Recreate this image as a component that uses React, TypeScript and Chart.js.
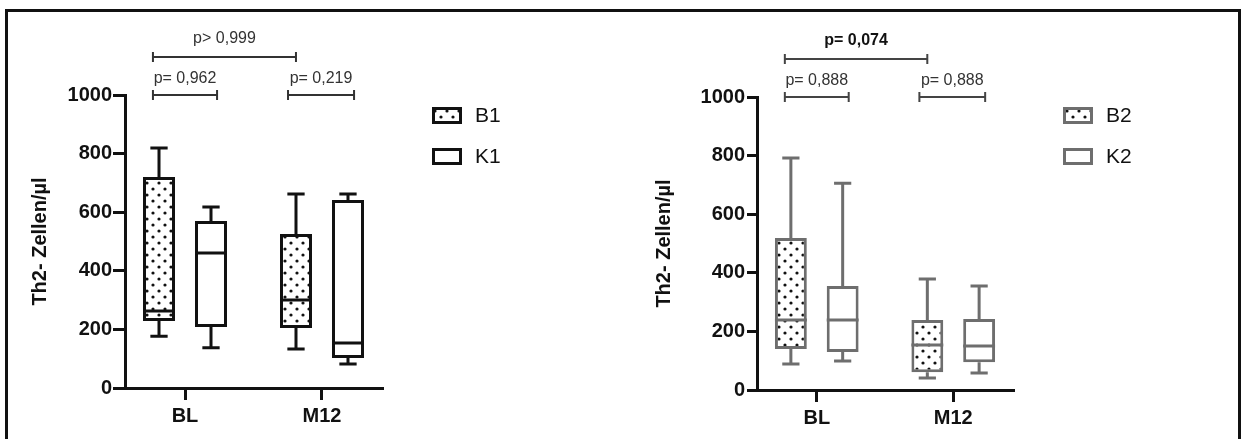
import React, { useEffect, useRef } from 'react';
import { Chart, registerables } from 'chart.js';

Chart.register(...registerables);

// ---------- data ----------
const categories = ['BL', 'M12'];
const yTicks = [0, 200, 400, 600, 800, 1000];

// left panel (B1 / K1)
const b1Min = [177, 133];
const b1Q1 = [229, 205];
const b1Median = [263, 300];
const b1Q3 = [720, 526];
const b1Max = [819, 662];

const k1Min = [137, 82];
const k1Q1 = [208, 102];
const k1Median = [461, 154];
const k1Q3 = [570, 642];
const k1Max = [618, 662];

// right panel (B2 / K2)
const b2Min = [89, 41];
const b2Q1 = [140, 61];
const b2Median = [239, 154];
const b2Q3 = [519, 239];
const b2Max = [792, 379];

const k2Min = [99, 58];
const k2Q1 = [130, 95];
const k2Median = [239, 150];
const k2Q3 = [355, 242];
const k2Max = [706, 355];

// significance brackets (x in category units, y in data units)
const bracketFrom = [-0.234, -0.234, 0.752];
const bracketTo = [0.81, 0.234, 1.234];
const bracketLevel = [1130, 1000, 1000];
const leftPLabels = ['p> 0,999', 'p= 0,962', 'p= 0,219'];
const rightPLabels = ['p= 0,074', 'p= 0,888', 'p= 0,888'];

const FONT = "'Liberation Sans', Arial, Helvetica, sans-serif";

function makePattern(): CanvasPattern | string {
  const c = document.createElement('canvas');
  c.width = 12;
  c.height = 12;
  const g = c.getContext('2d');
  if (!g) return '#fff';
  g.fillStyle = '#ffffff';
  g.fillRect(0, 0, 12, 12);
  g.fillStyle = '#111111';
  g.beginPath();
  g.arc(3, 3, 1.6, 0, Math.PI * 2);
  g.closePath();
  g.fill();
  g.beginPath();
  g.arc(9, 9, 1.6, 0, Math.PI * 2);
  g.closePath();
  g.fill();
  return g.createPattern(c, 'repeat') || '#fff';
}

const boxPlugin = {
  id: 'boxWhiskers',
  afterDatasetsDraw(chart: any) {
    const ctx = chart.ctx;
    const y = chart.scales.y;
    chart.data.datasets.forEach((ds: any, di: number) => {
      const meta = chart.getDatasetMeta(di);
      meta.data.forEach((bar: any, i: number) => {
        const { x, width } = bar.getProps(['x', 'width'], true);
        const st = ds.stats;
        const pMin = y.getPixelForValue(st.min[i]);
        const pQ1 = y.getPixelForValue(st.q1[i]);
        const pMed = y.getPixelForValue(st.median[i]);
        const pQ3 = y.getPixelForValue(st.q3[i]);
        const pMax = y.getPixelForValue(st.max[i]);
        const cap = width * 0.27;
        ctx.save();
        ctx.strokeStyle = ds.borderColor;
        ctx.lineWidth = 3;
        ctx.lineCap = 'butt';
        ctx.beginPath();
        ctx.moveTo(x, pQ3);
        ctx.lineTo(x, pMax);
        ctx.moveTo(x - cap, pMax);
        ctx.lineTo(x + cap, pMax);
        ctx.moveTo(x, pQ1);
        ctx.lineTo(x, pMin);
        ctx.moveTo(x - cap, pMin);
        ctx.lineTo(x + cap, pMin);
        ctx.moveTo(x - width / 2, pMed);
        ctx.lineTo(x + width / 2, pMed);
        ctx.stroke();
        ctx.restore();
      });
    });
  },
};

const extrasPlugin = {
  id: 'extras',
  afterDraw(chart: any, _args: any, opts: any) {
    const ctx = chart.ctx;
    const xs = chart.scales.x;
    const ys = chart.scales.y;
    const area = chart.chartArea;
    // brackets
    ctx.save();
    ctx.strokeStyle = opts.bracketColor;
    ctx.lineWidth = 2;
    opts.labels.forEach((lab: string, i: number) => {
      const x1 = xs.getPixelForValue(bracketFrom[i]);
      const x2 = xs.getPixelForValue(bracketTo[i]);
      const yy = ys.getPixelForValue(bracketLevel[i]);
      ctx.beginPath();
      ctx.moveTo(x1, yy);
      ctx.lineTo(x2, yy);
      ctx.moveTo(x1, yy - 5);
      ctx.lineTo(x1, yy + 5);
      ctx.moveTo(x2, yy - 5);
      ctx.lineTo(x2, yy + 5);
      ctx.stroke();
      const bold = opts.boldFirst && i === 0;
      ctx.font = `${bold ? 'bold ' : ''}16px ${FONT}`;
      ctx.fillStyle = bold ? '#111' : '#333';
      ctx.textAlign = 'center';
      ctx.textBaseline = 'alphabetic';
      ctx.fillText(lab, (x1 + x2) / 2, yy - (i === 0 ? 14 : 12));
    });
    ctx.restore();
    // legend
    ctx.save();
    chart.data.datasets.forEach((ds: any, i: number) => {
      const bx = area.right + 50;
      const by = opts.legendTop[i];
      ctx.fillStyle = ds.backgroundColor;
      ctx.fillRect(bx, by, 30, 17);
      ctx.strokeStyle = ds.borderColor;
      ctx.lineWidth = 3;
      ctx.strokeRect(bx + 1.5, by + 1.5, 27, 14);
      ctx.fillStyle = '#111';
      ctx.font = `21px ${FONT}`;
      ctx.textAlign = 'left';
      ctx.textBaseline = 'middle';
      ctx.fillText(ds.label, bx + 43, by + 9);
    });
    ctx.restore();
  },
};

type BoxSeries = {
  label: string;
  min: number[];
  q1: number[];
  median: number[];
  q3: number[];
  max: number[];
  dotted: boolean;
};

type Panel = {
  canvasWidth: number;
  areaLeft: number;
  areaRight: number;
  areaTop: number;
  areaBottom: number;
  color: string;
  bracketColor: string;
  titleCenter: number;
  yTickLength: number;
  yTickPad: number;
  labels: string[];
  boldFirst: boolean;
  series: BoxSeries[];
};

const HEIGHT = 439;

function buildChart(canvas: HTMLCanvasElement, p: Panel) {
  const pattern = makePattern();
  const titleSize = 20;
  return new Chart(canvas, {
    type: 'bar',
    data: {
      datasets: p.series.map((s) => ({
        label: s.label,
        data: categories.map((_, i) => ({ x: i, y: [s.q1[i], s.q3[i]] })),
        backgroundColor: s.dotted ? pattern : '#ffffff',
        borderColor: p.color,
        borderWidth: 3,
        borderSkipped: false,
        categoryPercentage: 104 / 137,
        barPercentage: 32 / 52,
        stats: { min: s.min, q1: s.q1, median: s.median, q3: s.q3, max: s.max },
      })) as any,
    },
    options: {
      responsive: false,
      animation: false,
      events: [],
      layout: {
        padding: {
          left: 0,
          top: p.areaTop,
          right: p.canvasWidth - p.areaRight,
          bottom: 0,
        },
      },
      plugins: {
        legend: { display: false },
        tooltip: { enabled: false },
        extras: {
          bracketColor: p.bracketColor,
          labels: p.labels,
          boldFirst: p.boldFirst,
          legendTop: [107, 148],
        },
      } as any,
      scales: {
        x: {
          type: 'linear',
          min: -0.438,
          max: 1.438,
          bounds: 'data',
          offset: false,
          afterBuildTicks: (scale: any) => {
            scale.ticks = categories.map((_, i) => ({ value: i }));
          },
          afterFit: (scale: any) => {
            scale.height = HEIGHT - p.areaBottom;
          },
          grid: {
            offset: false,
            drawOnChartArea: false,
            drawTicks: true,
            tickLength: 12,
            color: '#111',
            lineWidth: 3,
          },
          border: { display: true, color: '#111', width: 3 },
          ticks: {
            autoSkip: false,
            maxRotation: 0,
            padding: 4,
            color: '#111',
            font: { family: FONT, size: 20, weight: 'bold', lineHeight: 1.2 },
            callback: (v: any) => categories[Math.round(Number(v))] ?? '',
          },
        },
        y: {
          type: 'linear',
          min: 0,
          max: 1000,
          afterBuildTicks: (scale: any) => {
            scale.ticks = yTicks.map((v) => ({ value: v }));
          },
          afterFit: (scale: any) => {
            scale.width = p.areaLeft;
          },
          grid: {
            drawOnChartArea: false,
            drawTicks: true,
            tickLength: p.yTickLength,
            color: '#111',
            lineWidth: 3,
          },
          border: { display: true, color: '#111', width: 3 },
          ticks: {
            padding: p.yTickPad,
            color: '#111',
            font: { family: FONT, size: 20, weight: 'bold', lineHeight: 1.2 },
            callback: (v: any) => String(v),
          },
          title: {
            display: true,
            text: 'Th2- Zellen/µl',
            color: '#111',
            font: { family: FONT, size: titleSize, weight: 'bold', lineHeight: 1.2 },
            padding: { top: p.titleCenter - (titleSize * 1.2) / 2, bottom: 0 },
          },
        },
      },
    } as any,
    plugins: [boxPlugin, extrasPlugin],
  });
}

const leftPanel: Panel = {
  canvasWidth: 620,
  areaLeft: 125,
  areaRight: 382,
  areaTop: 95,
  areaBottom: 388,
  color: '#111111',
  bracketColor: '#333333',
  titleCenter: 40,
  yTickLength: 12,
  yTickPad: 1,
  labels: leftPLabels,
  boldFirst: false,
  series: [
    { label: 'B1', min: b1Min, q1: b1Q1, median: b1Median, q3: b1Q3, max: b1Max, dotted: true },
    { label: 'K1', min: k1Min, q1: k1Q1, median: k1Median, q3: k1Q3, max: k1Max, dotted: false },
  ],
};

const rightPanel: Panel = {
  canvasWidth: 622,
  areaLeft: 137,
  areaRight: 393,
  areaTop: 97,
  areaBottom: 390,
  color: '#6e6e6e',
  bracketColor: '#444444',
  titleCenter: 44,
  yTickLength: 10,
  yTickPad: 2,
  labels: rightPLabels,
  boldFirst: true,
  series: [
    { label: 'B2', min: b2Min, q1: b2Q1, median: b2Median, q3: b2Q3, max: b2Max, dotted: true },
    { label: 'K2', min: k2Min, q1: k2Q1, median: k2Median, q3: k2Q3, max: k2Max, dotted: false },
  ],
};

function PanelChart({ panel, left }: { panel: Panel; left: number }) {
  const ref = useRef<HTMLCanvasElement | null>(null);
  useEffect(() => {
    if (!ref.current) return;
    const chart = buildChart(ref.current, panel);
    return () => chart.destroy();
  }, [panel]);
  return (
    <canvas
      ref={ref}
      width={panel.canvasWidth}
      height={HEIGHT}
      style={{ position: 'absolute', left, top: 0, display: 'block' }}
    />
  );
}

export default function App() {
  return (
    <div
      style={{
        position: 'absolute',
        left: 0,
        top: 0,
        width: 1242,
        height: HEIGHT,
        background: '#fff',
        overflow: 'hidden',
      }}
    >
      <div
        style={{
          position: 'absolute',
          left: 5,
          top: 9,
          width: 1236,
          height: 440,
          boxSizing: 'border-box',
          borderTop: '3px solid #111',
          borderLeft: '3px solid #111',
          borderRight: '3px solid #111',
        }}
      />
      <PanelChart panel={leftPanel} left={0} />
      <PanelChart panel={rightPanel} left={620} />
    </div>
  );
}
